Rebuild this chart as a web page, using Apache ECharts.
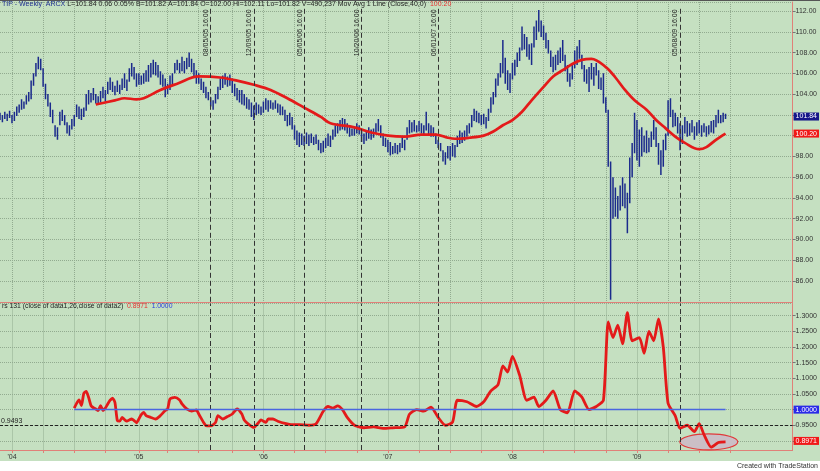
<!DOCTYPE html>
<html><head><meta charset="utf-8">
<script src="https://cdn.jsdelivr.net/npm/echarts@6/dist/echarts.min.js"></script>
<style>
html,body{margin:0;padding:0;background:#fff}
#c{width:820px;height:471px;background:linear-gradient(#c5e0c1 0,#c5e0c1 461px,#ffffff 461px)}
</style>
</head><body><div id="c"></div>
<script>
// ---- data ----
const startDateUTC = Date.UTC(2003, 10, 28); // first weekly bar (Fri)
const nWeeks = 332;
const categories = [];
for (let i = 0; i < nWeeks; i++) {
  categories.push(new Date(startDateUTC + i * 7 * 86400000).toISOString().slice(0, 10));
}
const priceHigh = [
102.2,102.0,102.3,102.1,102.4,102.0,102.3,102.8,103.0,103.5,
103.3,103.9,104.2,105.3,106.0,107.0,107.6,107.4,106.5,105.0,
104.0,103.2,102.5,101.0,100.8,102.3,102.5,102.0,101.3,101.0,
101.6,102.0,103.0,102.8,102.6,102.7,104.0,104.4,104.1,104.6,
104.0,103.8,104.3,104.7,104.4,105.2,105.6,105.2,104.8,105.3,
104.9,105.5,106.0,105.4,106.5,107.0,106.6,106.0,106.0,105.8,
106.0,106.3,106.8,107.0,107.3,107.1,106.8,106.2,105.9,105.5,
105.0,105.8,106.0,107.0,107.3,107.0,107.6,107.2,107.5,108.0,
107.4,107.0,106.3,106.0,105.5,105.2,104.7,104.2,103.7,103.4,
104.0,104.7,105.5,105.8,106.0,105.7,105.9,105.5,105.0,104.6,
104.4,104.4,104.0,103.7,103.5,103.2,102.9,103.2,103.0,102.8,
103.3,103.6,103.4,103.4,103.2,103.4,103.1,103.0,102.8,102.5,
102.0,102.2,101.8,101.0,100.5,100.3,100.2,100.0,100.3,100.1,
100.2,99.9,100.1,99.6,99.3,99.5,99.8,100.2,100.0,100.6,
101.0,101.2,101.5,101.7,101.6,101.2,100.8,100.7,100.9,101.2,
101.0,100.5,100.2,100.4,100.8,100.6,100.7,101.2,101.6,101.0,
100.2,99.8,99.6,99.4,99.0,99.3,99.1,99.3,99.9,99.6,
100.8,101.5,101.3,101.5,101.0,101.4,101.2,101.0,102.3,101.2,
101.0,100.8,100.2,99.6,99.3,98.6,98.4,99.0,99.0,99.3,
99.1,100.0,100.5,100.3,100.5,101.0,101.2,102.0,102.6,102.4,
102.2,102.0,102.1,101.8,102.6,103.7,104.2,105.5,106.0,107.0,
109.2,107.5,106.3,106.0,107.0,107.3,108.0,108.5,110.5,109.8,
109.5,108.8,108.9,110.5,111.1,112.1,111.1,110.6,109.9,109.2,
108.2,107.6,107.8,108.2,108.5,109.2,107.8,106.8,106.0,107.0,
108.2,108.6,109.2,107.8,106.8,106.4,106.6,107.0,106.6,107.0,
106.3,105.6,106.0,103.7,102.5,97.5,96.0,95.0,94.2,95.2,
96.0,95.4,94.5,97.9,99.3,102.2,101.5,100.6,100.8,100.0,
100.5,99.8,100.4,101.5,100.8,99.3,98.6,99.6,100.2,103.4,
103.6,102.5,102.2,101.8,101.2,101.0,101.8,101.4,101.2,101.5,
100.9,101.3,101.5,101.0,101.2,100.9,101.0,101.4,101.5,102.0,
102.5,102.0,102.2,102.1
];
const priceLow = [
101.5,101.3,101.6,101.4,101.7,101.2,101.4,101.9,102.2,102.5,
102.6,103.0,103.3,103.5,104.8,105.7,106.4,106.3,104.7,103.5,
102.8,101.8,101.2,99.9,99.6,101.0,101.4,101.0,100.2,100.0,
100.6,100.9,101.8,101.6,101.5,101.8,102.4,103.0,103.2,103.4,
103.1,103.0,103.2,103.6,103.3,104.0,104.4,104.2,103.9,104.2,
104.0,104.4,104.6,104.3,105.2,105.7,105.4,104.7,104.9,104.9,
105.0,105.2,105.2,105.6,105.9,105.8,105.6,104.9,104.7,103.7,
104.0,104.4,104.8,106.0,106.3,106.0,106.2,106.0,106.4,106.6,
106.1,105.6,105.0,105.0,104.4,104.1,103.6,103.4,102.8,102.5,
103.1,103.5,104.4,104.6,104.9,104.7,104.8,104.1,103.8,103.4,
103.2,103.0,102.9,102.6,102.5,101.8,101.5,102.0,102.1,102.0,
102.2,102.5,102.3,102.6,102.5,102.6,102.2,102.0,102.0,101.4,
100.9,101.0,100.6,99.6,99.1,98.9,99.1,99.0,99.2,99.0,
99.3,99.1,99.2,98.6,98.3,98.4,98.8,99.0,98.9,99.6,
99.9,100.2,100.5,100.6,100.5,100.2,99.9,100.0,100.0,100.2,
100.1,99.4,99.2,99.5,99.7,99.6,99.8,100.2,100.4,99.8,
99.0,98.9,98.4,98.1,98.2,98.3,98.2,98.4,98.8,98.6,
99.6,100.2,100.3,100.4,100.3,100.4,100.2,100.0,100.5,100.0,
99.9,99.9,99.2,98.8,98.5,97.5,97.2,97.8,97.6,98.0,
97.9,98.9,99.2,99.3,99.5,99.9,100.2,100.8,101.4,101.3,
101.2,101.0,101.1,100.7,101.4,102.2,103.0,103.7,104.8,105.6,
106.0,105.0,104.4,104.1,105.4,105.8,106.6,107.2,108.2,108.3,
107.6,107.3,106.8,108.5,109.2,110.0,109.5,109.2,108.4,107.9,
106.6,106.1,106.3,106.8,107.0,107.2,106.2,105.2,104.7,105.4,
106.5,106.8,107.4,106.4,105.2,105.0,104.2,105.4,104.8,105.8,
104.5,104.4,103.1,102.2,97.0,84.2,92.0,92.2,92.0,92.8,
93.2,93.0,90.6,93.5,96.0,98.3,97.6,97.0,98.0,98.4,
98.3,98.4,98.9,99.6,98.9,97.2,96.2,97.0,98.6,100.0,
101.8,100.8,100.9,100.2,98.6,99.2,100.2,99.9,100.0,100.3,
99.6,100.0,100.2,99.9,100.3,99.9,100.1,100.3,100.2,100.8,
101.2,101.2,101.3,101.6
];
// 40-week moving average, read at [week index, value]
const movAvg = [
[40,103.0],[48,103.4],[52,103.6],[57,103.5],[60,103.6],[67,104.4],[74,105.0],[83,105.7],
[92,105.6],[99,105.3],[106,104.9],[113,104.4],[120,103.6],[127,102.7],[134,101.8],[138,101.2],
[148,100.8],[155,100.3],[162,100.0],[169,99.9],[176,100.1],[182,100.1],[187,99.8],[190,99.7],
[196,99.8],[202,100.0],[206,100.4],[210,101.0],[214,101.5],[218,102.3],[222,103.4],[227,104.7],
[231,105.7],[235,106.3],[239,106.9],[243,107.3],[247,107.4],[253,106.6],[257,105.6],[261,104.4],
[265,103.4],[270,102.5],[274,101.5],[278,100.7],[282,99.9],[286,99.3],[292,98.7],[295,98.9],
[299,99.6],[303,100.2]
];
// relative strength, read at [week index, value]
const relStrength = [
[31,1.005],[32,1.020],[33,1.031],[34,1.013],[35,1.052],[36,1.058],[37,1.039],[38,1.013],[39,1.006],
[40,1.002],[41,0.997],[42,1.013],[43,0.997],[44,1.005],[45,1.018],[46,1.030],[47,1.037],[48,1.023],
[49,0.965],[50,0.963],[51,0.975],[52,0.968],[53,0.963],[54,0.967],[55,0.970],[56,0.965],[57,0.958],
[58,0.970],[59,0.984],[60,0.991],[61,0.981],[63,0.975],[65,0.970],[67,0.981],[69,0.997],[70,1.002],
[71,1.034],[73,1.039],[75,1.031],[76,1.018],[78,1.002],[80,0.995],[82,0.999],[83,0.986],[85,0.959],
[86,0.949],[88,0.948],[90,0.959],[91,0.981],[93,0.970],[95,0.978],[97,0.986],[99,1.002],[101,0.986],
[102,0.967],[104,0.952],[106,0.943],[108,0.959],[109,0.967],[111,0.959],[112,0.970],[114,0.970],
[116,0.963],[119,0.956],[122,0.952],[125,0.952],[129,0.950],[132,0.955],[135,0.995],[137,1.010],
[139,1.005],[141,1.012],[143,1.000],[145,0.975],[148,0.950],[152,0.942],[156,0.945],[160,0.940],
[164,0.942],[169,0.945],[171,0.985],[174,1.000],[177,0.995],[180,1.008],[183,0.975],[186,0.950],
[189,0.960],[191,1.030],[195,1.025],[199,1.010],[202,1.025],[205,1.060],[208,1.080],[210,1.140],
[212,1.120],[214,1.170],[217,1.110],[220,1.030],[223,1.040],[225,1.010],[228,1.030],[231,1.060],
[234,1.000],[237,0.990],[240,1.060],[243,1.040],[246,1.000],[249,1.010],[252,1.030],[254,1.280],
[256,1.230],[258,1.270],[260,1.210],[262,1.310],[264,1.220],[267,1.230],[269,1.180],[271,1.250],
[273,1.220],[275,1.290],[277,1.200],[279,1.020],[282,0.980],[284,0.940],[287,0.950],[290,0.930],
[292,0.955],[294,0.920],[297,0.880],[300,0.895],[303,0.897]
];
const eventWeeks = [88, 106, 127, 151, 183, 284];
const eventLabels = ['08/05/05 16:00','12/09/05 16:00','05/05/06 16:00','10/20/06 16:00','06/01/07 16:00','05/08/09 16:00'];
const lastPrice = 101.84, lastMA = 100.20, lastRS = 0.8971, rsBase = 1.0, rsLevel = 0.9493;
const lastAxisYear = 2009;

// ---- chart ----
const FONT = 'Liberation Sans, Arial, sans-serif';
const GRIDC = '#92ab90';
const BORDER = '#e08078';
const isQuarter = (i, v) => { const y = +v.slice(0,4), m = +v.slice(5,7), d = +v.slice(8,10); return y <= lastAxisYear && (m===1||m===4||m===7||m===10) && d <= 7; };
const isYear = (i, v) => { const y = +v.slice(0,4), m = +v.slice(5,7), d = +v.slice(8,10); return y <= lastAxisYear && m===1 && d <= 7; };

const ohlcData = priceHigh.map((h, i) => [i, h, priceLow[i]]);

const dateLines = eventWeeks.map((w, k) => ([
  { coord: [w, 84], label: { show: true, position: 'insideEndTop', formatter: eventLabels[k], fontSize: 7, color: '#222', fontFamily: FONT, distance: 1 } },
  { coord: [w, 112.25] }
]));
const dateLinesPlain = eventWeeks.map(w => ({ xAxis: categories[w], label: { show: false } }));

const HIDDEN_LINE = { color: 'rgba(0,0,0,0)', width: 0, type: 'solid' };
const boxLabel = (txt, bg) => ({ show: true, position: 'end', formatter: txt, backgroundColor: bg, color: '#ffffff',
  opacity: 1, fontSize: 7, fontFamily: FONT, padding: [1, 2, 0, 2], distance: 1 });

const chart = echarts.init(document.getElementById('c'));
chart.setOption({
  animation: false,
  backgroundColor: 'transparent',
  textStyle: { fontFamily: FONT },
  title: [{
    left: 2, top: 1, padding: 0,
    text: '{b|TIP - Weekly  ARCX} L=101.84 0.06 0.05% B=101.82 A=101.84 O=102.00 Hi=102.11 Lo=101.82 V=490,237 Mov Avg 1 Line (Close,40,0)  {r|100.20}',
    textStyle: { fontSize: 7, color: '#222', fontWeight: 'normal', fontFamily: FONT,
      rich: { b: { color: '#1d2d8f', fontSize: 7, fontFamily: FONT }, r: { color: '#e83030', fontSize: 7, fontFamily: FONT } } }
  }, {
    left: 2, top: 303, padding: 0,
    text: 'rs 131 (close of data1,26,close of data2)  {r|0.8971}  {b|1.0000}',
    textStyle: { fontSize: 6.8, color: '#222', fontWeight: 'normal', fontFamily: FONT,
      rich: { b: { color: '#2a3ce0', fontSize: 6.8, fontFamily: FONT }, r: { color: '#e83030', fontSize: 6.8, fontFamily: FONT } } }
  }, {
    right: 2, bottom: 1, padding: 0, text: 'Created with TradeStation',
    textStyle: { fontSize: 7, color: '#333', fontWeight: 'normal', fontFamily: FONT }
  }],
  grid: [
    { left: 0, right: 26, top: 2, height: 299.8 },
    { left: 0, right: 26, top: 303.5, height: 146.5 }
  ],
  xAxis: [{
    type: 'category', gridIndex: 0, data: categories, boundaryGap: false,
    axisLine: { lineStyle: { color: BORDER, width: 1 } }, axisTick: { show: false }, axisLabel: { show: false },
    splitLine: { show: true, interval: isQuarter, lineStyle: { color: GRIDC, type: 'dotted', width: 1 } }
  }, {
    type: 'category', gridIndex: 1, data: categories, boundaryGap: false,
    axisLine: { lineStyle: { color: BORDER, width: 1 } },
    axisTick: { show: true, interval: isQuarter, length: 3, lineStyle: { color: BORDER } },
    axisLabel: { interval: isYear, formatter: v => "'" + v.slice(2, 4), fontSize: 7, color: '#333', margin: 4, fontFamily: FONT },
    splitLine: { show: true, interval: isQuarter, lineStyle: { color: GRIDC, type: 'dotted', width: 1 } }
  }],
  yAxis: [{
    type: 'value', gridIndex: 0, position: 'right', min: 84, max: 112.87, interval: 2,
    axisLine: { show: true, lineStyle: { color: BORDER } },
    axisTick: { show: true, length: 3, lineStyle: { color: '#777' } },
    axisLabel: { fontSize: 7, color: '#333', margin: 3, showMinLabel: false, showMaxLabel: false, fontFamily: FONT,
      formatter: v => (Math.abs(v - 102) < 1e-6 || Math.abs(v - 100) < 1e-6) ? '' : v.toFixed(2) },
    splitLine: { show: true, lineStyle: { color: GRIDC, type: 'dotted', width: 1 } }
  }, {
    type: 'value', gridIndex: 1, position: 'right', min: 0.871, max: 1.339, splitNumber: 9, minInterval: 0.05, maxInterval: 0.05,
    axisLine: { show: true, lineStyle: { color: BORDER } },
    axisTick: { show: true, length: 3, lineStyle: { color: '#777' } },
    axisLabel: { fontSize: 7, color: '#333', margin: 3, showMinLabel: false, showMaxLabel: false, fontFamily: FONT,
      formatter: v => (Math.abs(v - 1) < 1e-6 || Math.abs(v - 0.9) < 1e-6) ? '' : v.toFixed(4) },
    splitLine: { show: true, lineStyle: { color: GRIDC, type: 'dotted', width: 1 } }
  }],
  series: [{
    type: 'custom', name: 'TIP', xAxisIndex: 0, yAxisIndex: 0, data: ohlcData, clip: true, z: 3,
    encode: { x: 0, y: [1, 2] },
    renderItem: (params, api) => {
      const x = api.value(0);
      const a = api.coord([x, api.value(1)]);
      const b = api.coord([x, api.value(2)]);
      return { type: 'line', shape: { x1: a[0], y1: a[1], x2: b[0], y2: b[1] },
        style: { stroke: '#1b2a8c', lineWidth: 1.5 } };
    }
  }, {
    type: 'line', name: 'MA40', xAxisIndex: 0, yAxisIndex: 0, data: movAvg, smooth: 0.35, symbol: 'none', z: 4, clip: false,
    lineStyle: { color: '#e41a1a', width: 2.7 },
    markLine: {
      silent: true, symbol: 'none', animation: false,
      lineStyle: { color: '#333', type: [5, 3], width: 1 },
      data: dateLines.concat([
        { yAxis: lastPrice, lineStyle: HIDDEN_LINE, label: boxLabel('101.84', '#17178a') },
        { yAxis: lastMA, lineStyle: HIDDEN_LINE, label: boxLabel('100.20', '#f01818') }
      ])
    }
  }, {
    type: 'line', name: 'RS', xAxisIndex: 1, yAxisIndex: 1, data: relStrength, smooth: 0.2, symbol: 'none', z: 4, clip: false,
    lineStyle: { color: '#e41a1a', width: 2.8 },
    markLine: {
      silent: true, symbol: 'none', animation: false,
      lineStyle: { color: '#333', type: [5, 3], width: 1 },
      data: dateLinesPlain.concat([
        { yAxis: rsLevel, lineStyle: { color: '#222', type: [3, 2], width: 1 },
          label: { show: true, position: 'insideStartTop', formatter: '0.9493', fontSize: 7, color: '#222', fontFamily: FONT, distance: 1 } },
        [{ coord: [relStrength[0][0], rsBase], lineStyle: { color: '#4a66e0', type: 'solid', width: 1.4 }, label: { show: false } },
         { coord: [relStrength[relStrength.length - 1][0], rsBase] }],
        { yAxis: rsBase, lineStyle: HIDDEN_LINE, label: boxLabel('1.0000', '#2a2ae8') },
        { yAxis: lastRS, lineStyle: HIDDEN_LINE, label: boxLabel('0.8971', '#f01818') }
      ])
    }
  }]
});

const ec = chart.convertToPixel({ gridIndex: 1 }, [296, 0.897]);
chart.setOption({
  graphic: [
    { type: 'rect', shape: { x: 0, y: 0, width: 820, height: 1 }, style: { fill: '#555' }, silent: true },
    { type: 'ellipse', shape: { cx: ec[0], cy: ec[1], rx: 29, ry: 8 }, z: 1,
      style: { fill: '#cbbfc6', stroke: '#e03a3a', lineWidth: 1.2 }, silent: true }
  ]
});
</script>
</body></html>
